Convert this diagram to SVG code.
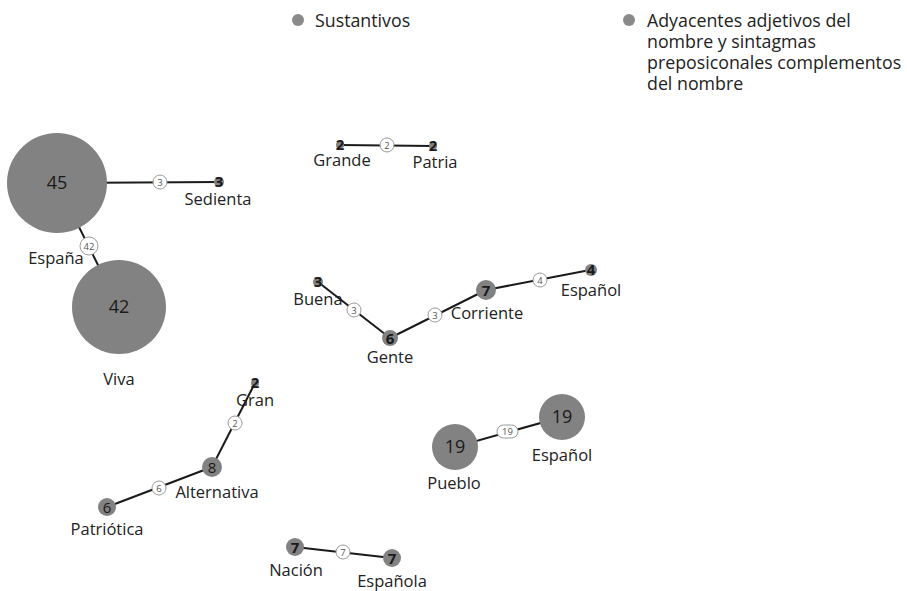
<svg xmlns="http://www.w3.org/2000/svg" width="907" height="591" viewBox="0 0 907 591">
<style>
text{font-family:"Open Sans","Noto Sans","Liberation Sans",sans-serif;fill:#222}
.lbl{font-size:16.5px;text-anchor:middle}
.leg{font-size:17.8px}
.node{fill:#828282}
.num{text-anchor:middle;font-size:15px;fill:#1a1a1a}
.big{font-size:18px}
.edge{stroke:#1a1a1a;stroke-width:2;fill:none}
.eb{fill:#fff;stroke:#9a9a9a;stroke-width:1}
.et{font-size:9.5px;text-anchor:middle;fill:#555}
</style>
<rect width="907" height="591" fill="#fff"/>
<g id="legend">
<circle cx="298" cy="20" r="6" fill="#8a8a8a"/>
<text class="leg" x="315" y="27">Sustantivos</text>
<circle cx="629" cy="20" r="6" fill="#8a8a8a"/>
<text class="leg" x="647" y="27">Adyacentes adjetivos del</text>
<text class="leg" x="647" y="48">nombre y sintagmas</text>
<text class="leg" x="647" y="69">preposiconales complementos</text>
<text class="leg" x="647" y="90">del nombre</text>
</g>
<g id="connectors">
<line class="edge" x1="57" y1="183" x2="219" y2="182"/>
<line class="edge" x1="57" y1="183" x2="119" y2="307"/>
<line class="edge" x1="340" y1="145" x2="433" y2="146"/>
<line class="edge" x1="318" y1="282" x2="390" y2="338"/>
<line class="edge" x1="390" y1="338" x2="486" y2="290"/>
<line class="edge" x1="486" y1="290" x2="590" y2="270"/>
<line class="edge" x1="255" y1="383" x2="212" y2="467"/>
<line class="edge" x1="212" y1="467" x2="107" y2="507"/>
<line class="edge" x1="295" y1="547" x2="392" y2="558"/>
<line class="edge" x1="455" y1="447" x2="562" y2="417"/>
<g id="e1"><circle class="eb" cx="160" cy="182" r="7"/><text class="et" x="160" y="185.5">3</text></g>
<g id="e2"><circle class="eb" cx="89" cy="246" r="9"/><text class="et" x="89" y="249.5">42</text></g>
<g id="e3"><circle class="eb" cx="387" cy="145" r="7"/><text class="et" x="387" y="148.5">2</text></g>
<g id="e4"><circle class="eb" cx="354" cy="310" r="7"/><text class="et" x="354" y="313.5">3</text></g>
<g id="e5"><circle class="eb" cx="435" cy="315" r="7"/><text class="et" x="435" y="318.5">3</text></g>
<g id="e6"><circle class="eb" cx="540" cy="280" r="7"/><text class="et" x="540" y="283.5">4</text></g>
<g id="e7"><circle class="eb" cx="235" cy="423" r="7"/><text class="et" x="235" y="426.5">2</text></g>
<g id="e8"><circle class="eb" cx="159" cy="488" r="7"/><text class="et" x="159" y="491.5">6</text></g>
<g id="e9"><circle class="eb" cx="343" cy="552" r="7"/><text class="et" x="343" y="555.5">7</text></g>
<g id="e10"><rect class="eb" x="497" y="425" width="21" height="13" rx="6.5"/><text class="et" x="507.5" y="434.5">19</text></g>
</g>
<g id="n-espana"><circle class="node" cx="57" cy="183" r="50"/><text class="num big" x="57" y="189">45</text><text class="lbl" x="56" y="264">España</text></g>
<g id="n-viva"><circle class="node" cx="119" cy="307" r="47"/><text class="num big" x="119" y="313">42</text><text class="lbl" x="119" y="385">Viva</text></g>
<g id="n-sedienta"><circle class="node" cx="219" cy="182" r="5" fill="#555"/><text class="num" x="219" y="187" font-weight="bold">3</text><text class="lbl" x="218" y="205">Sedienta</text></g>
<g id="n-grande"><circle class="node" cx="340" cy="145" r="4"/><text class="num" x="340" y="150" font-weight="bold">2</text><text class="lbl" x="342" y="166">Grande</text></g>
<g id="n-patria"><circle class="node" cx="433" cy="146" r="4"/><text class="num" x="433" y="151" font-weight="bold">2</text><text class="lbl" x="435" y="168">Patria</text></g>
<g id="n-buena"><circle class="node" cx="318" cy="282" r="5"/><text class="num" x="318" y="287" font-weight="bold">3</text><text class="lbl" x="318" y="305">Buena</text></g>
<g id="n-gente"><circle class="node" cx="390" cy="338" r="8"/><text class="num" x="390" y="344" font-weight="bold">6</text><text class="lbl" x="390" y="363">Gente</text></g>
<g id="n-corriente"><circle class="node" cx="486" cy="290" r="10"/><text class="num" x="486" y="296" font-weight="bold">7</text><text class="lbl" x="487" y="319">Corriente</text></g>
<g id="n-espanol1"><circle class="node" cx="591" cy="270" r="6"/><text class="num" x="591" y="275" font-weight="bold">4</text><text class="lbl" x="591" y="296">Español</text></g>
<g id="n-gran"><circle class="node" cx="255" cy="383" r="4"/><text class="num" x="255" y="388" font-weight="bold">2</text><text class="lbl" x="255" y="406">Gran</text></g>
<g id="n-alternativa"><circle class="node" cx="212" cy="467" r="10"/><text class="num" x="212" y="473">8</text><text class="lbl" x="217" y="498">Alternativa</text></g>
<g id="n-patriotica"><circle class="node" cx="107" cy="507" r="9"/><text class="num" x="107" y="513">6</text><text class="lbl" x="107" y="535">Patriótica</text></g>
<g id="n-nacion"><circle class="node" cx="295" cy="547" r="9"/><text class="num" x="295" y="553" font-weight="bold">7</text><text class="lbl" x="296" y="576">Nación</text></g>
<g id="n-espanola"><circle class="node" cx="392" cy="558" r="9"/><text class="num" x="392" y="564" font-weight="bold">7</text><text class="lbl" x="392" y="587">Española</text></g>
<g id="n-pueblo"><circle class="node" cx="455" cy="447" r="23"/><text class="num big" x="455" y="453">19</text><text class="lbl" x="454" y="489">Pueblo</text></g>
<g id="n-espanol2"><circle class="node" cx="562" cy="417" r="23"/><text class="num big" x="562" y="423">19</text><text class="lbl" x="562" y="461">Español</text></g>
</svg>
